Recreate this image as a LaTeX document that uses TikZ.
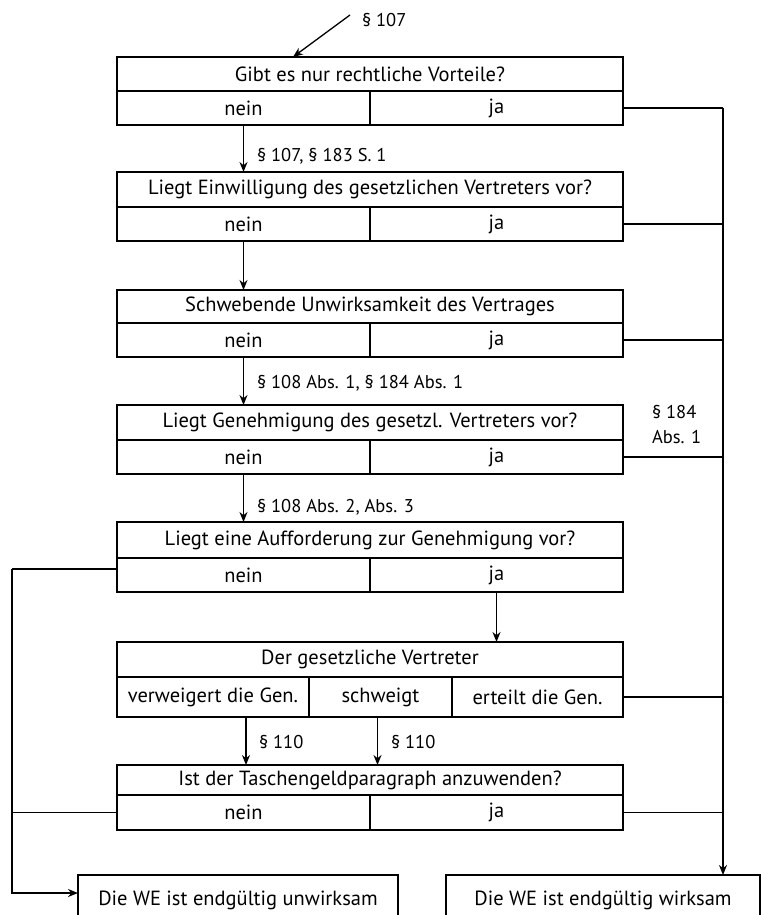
\documentclass[tikz,border=0pt]{standalone}
\usepackage{fontspec}
\setmainfont{PT Sans}
\usetikzlibrary{arrows.meta}
\begin{document}
\begin{tikzpicture}[x=1pt,y=-1pt,
  every node/.style={font=\fontsize{20.5}{24}\selectfont, inner sep=0pt, outer sep=0pt},
  hdr/.style={draw, line width=1.8pt, minimum width=506pt},
  half/.style={draw, line width=1.8pt, minimum width=253pt, minimum height=34pt},
  cellbox/.style={draw, line width=1.8pt},
  lbl/.style={anchor=west, font=\fontsize{18.5}{25}\selectfont},
  link/.style={line width=1.8pt},
  arr/.style={link, -{Stealth[length=10pt,width=8pt]}}]
\useasboundingbox (0,0) rectangle (762,915);
\clip (0,0) rectangle (762,915);

% question 1
\node[hdr, minimum height=34pt] (b1h) at (370,74) {Gibt es nur rechtliche Vorteile?};
\node[half] (b1n) at (243.5,108) {nein};
\node[half] (b1j) at (496.5,108) {ja};

% question 2
\node[hdr, minimum height=35pt] (b2h) at (370,189.5) {Liegt Einwilligung des gesetzlichen Vertreters vor?};
\node[half] (b2n) at (243.5,224) {nein};
\node[half] (b2j) at (496.5,224) {ja};

% state of the contract
\node[hdr, minimum height=33pt] (b3h) at (370,306.5) {Schwebende Unwirksamkeit des Vertrages};
\node[half] (b3n) at (243.5,340) {nein};
\node[half] (b3j) at (496.5,340) {ja};

% question 4
\node[hdr, minimum height=35pt] (b4h) at (370,422.5) {Liegt Genehmigung des gesetzl. Vertreters vor?};
\node[half] (b4n) at (243.5,457) {nein};
\node[half] (b4j) at (496.5,457) {ja};

% question 5
\node[hdr, minimum height=36pt] (b5h) at (370,540) {Liegt eine Aufforderung zur Genehmigung vor?};
\node[half] (b5n) at (243.5,575) {nein};
\node[half] (b5j) at (496.5,575) {ja};

% reaction of the representative
\node[hdr, minimum height=35pt] (b6h) at (370,659.5) {Der gesetzliche Vertreter};
\node[cellbox, minimum width=192pt, minimum height=40pt] (b6a) at (213,697) {verweigert die Gen.};
\node[cellbox, minimum width=143pt, minimum height=40pt] (b6b) at (380.5,697) {schweigt};
\node[cellbox, minimum width=171pt, minimum height=40pt] (b6c) at (537.5,697) {erteilt die Gen.};

% pocket money clause
\node[hdr, minimum height=30pt] (b7h) at (370,780) {Ist der Taschengeldparagraph anzuwenden?};
\node[half, minimum height=35pt] (b7n) at (243.5,812.5) {nein};
\node[half, minimum height=35pt] (b7j) at (496.5,812.5) {ja};

% results
\node[cellbox, minimum width=320pt, minimum height=50pt] (fin1) at (238,900) {Die WE ist endgültig unwirksam};
\node[cellbox, minimum width=314pt, minimum height=50pt] (fin2) at (603,900) {Die WE ist endgültig wirksam};

% rails
\coordinate (rrail) at (723,0);
\coordinate (lrail) at (12,0);
\coordinate (fin1in) at ([yshift=7pt]fin1.west);
\coordinate (b5out) at ([yshift=6pt]b5n.west);

% entry arrow
\coordinate (s107) at (350,15);
\draw[link, line width=1.3pt, -{Stealth[length=10pt,width=8pt]}] (s107) -- ([xshift=-77pt]b1h.north);
\node[lbl] (l0) at (362,20) {§ 107};

% main chain
\draw[arr] (b1n.south) -- (b1n.south |- b2h.north);
\node[lbl] (l1) at (257,156) {§ 107, § 183 S. 1};
\draw[arr] (b2n.south) -- (b2n.south |- b3h.north);
\draw[arr] (b3n.south) -- (b3n.south |- b4h.north);
\node[lbl] (l3) at (257,383) {§ 108 Abs. 1, § 184 Abs. 1};
\draw[arr] (b4n.south) -- (b4n.south |- b5h.north);
\node[lbl] (l4) at (257,507) {§ 108 Abs. 2, Abs. 3};
\draw[arr] (b5j.south) -- (b5j.south |- b6h.north);
\draw[arr] ([xshift=33pt]b6a.south) -- ([xshift=33pt]b6a.south |- b7h.north);
\node[lbl] (l6a) at (259,742) {§ 110};
\draw[arr] ([xshift=-3pt]b6b.south) -- ([xshift=-3pt]b6b.south |- b7h.north);
\node[lbl] (l6b) at (391,742) {§ 110};

% right rail to the valid result
\draw[link] (b1j.east) -- (b1j.east -| rrail);
\draw[arr] (b1j.east -| rrail) -- (rrail |- fin2.north);
\draw[link] (b2j.east) -- (b2j.east -| rrail);
\draw[link] (b3j.east) -- (b3j.east -| rrail);
\draw[link] (b4j.east) -- (b4j.east -| rrail);
\node[lbl, align=left] (l184) at (652,425) {§ 184\\Abs. 1};
\draw[link] (b6c.east) -- (b6c.east -| rrail);
\draw[link] (b7j.east) -- (b7j.east -| rrail);

% left rail to the invalid result
\draw[link] (b5out) -- (b5out -| lrail);
\draw[arr] (b5out -| lrail) -- (lrail |- fin1in) -- (fin1in);
\draw[link] (b7n.west) -- (b7n.west -| lrail);
\end{tikzpicture}
\end{document}
